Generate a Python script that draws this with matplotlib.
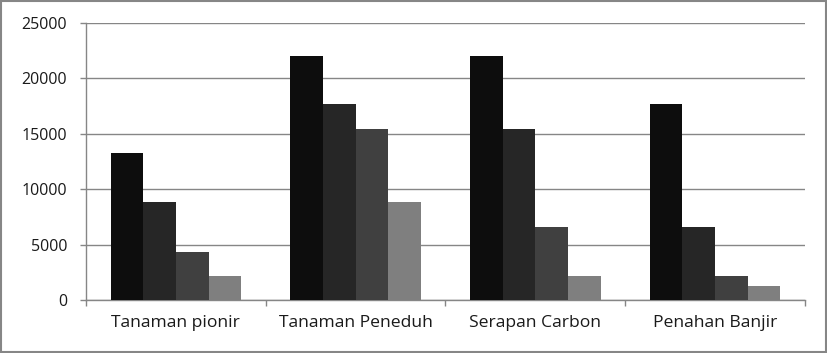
import matplotlib
matplotlib.use("Agg")
import matplotlib.pyplot as plt
import numpy as np
from matplotlib.patches import Rectangle

categories = ["Tanaman pionir", "Tanaman Peneduh", "Serapan Carbon", "Penahan Banjir"]
series1 = [13250, 22000, 22000, 17650]
series2 = [8800, 17650, 15400, 6620]
series3 = [4350, 15400, 6620, 2200]
series4 = [2200, 8800, 2200, 1270]
yticks = [0, 5000, 10000, 15000, 20000, 25000]

colors = ["#0d0d0d", "#262626", "#404040", "#7f7f7f"]

plt.rcParams['font.family'] = ['Open Sans', 'DejaVu Sans']

fig = plt.figure(figsize=(8.28, 3.53), dpi=100)
ax = fig.add_axes([86/828, 1-300/353, (805-86)/828, (300-23)/353])

n = len(categories)
x = np.arange(n)
bw = 1/5.5
for i, (vals, c) in enumerate(zip([series1, series2, series3, series4], colors)):
    ax.bar(x + (i - 1.5) * bw, vals, width=bw, color=c, zorder=3)

ax.set_xlim(-0.5, n - 0.5)
ax.set_ylim(0, 25000)
ax.set_yticks(yticks)
ax.set_yticklabels([str(v) for v in yticks], fontsize=11.5, color="#1a1a1a")
ax.yaxis.grid(True, color="#868686", linewidth=1.0, zorder=0)
ax.tick_params(axis='y', length=4.5, width=1, color="#868686", pad=9)

ax.set_xticks(x)
ax.set_xticklabels(categories, fontsize=12.6, color="#1a1a1a")
ax.tick_params(axis='x', which='major', length=0, pad=11)
ax.set_xticks(np.arange(n + 1) - 0.5, minor=True)
ax.tick_params(axis='x', which='minor', length=4.5, width=1, color="#868686")

for s in ['top', 'right']:
    ax.spines[s].set_visible(False)
for s in ['left', 'bottom']:
    ax.spines[s].set_color("#868686")
    ax.spines[s].set_linewidth(1.0)

fig.patches.append(Rectangle((0.001, 0.002), 0.997, 0.995, transform=fig.transFigure,
                             fill=False, edgecolor="#868686", linewidth=1.5))

fig.savefig("out.png", dpi=100)
